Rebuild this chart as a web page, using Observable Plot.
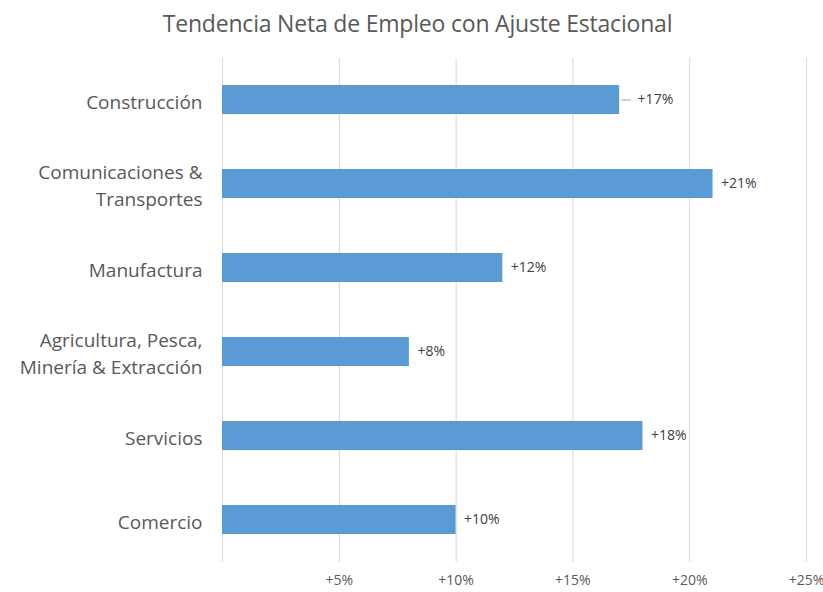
<!DOCTYPE html>
<html><head><meta charset="utf-8">
<script src="https://cdn.jsdelivr.net/npm/d3@7"></script>
<script src="https://cdn.jsdelivr.net/npm/@observablehq/plot@0.6"></script>
<style>
body{margin:0;background:#fff;font-family:"Open Sans",sans-serif;}
#title{height:40px;line-height:46px;text-align:center;font-size:23px;color:#595959;width:823px;padding-left:12px;box-sizing:border-box;letter-spacing:-0.2px;}
</style></head><body>
<div id="title">Tendencia Neta de Empleo con Ajuste Estacional</div>
<div id="chart"></div>
<script>
const categories = ["Construcción","Comunicaciones & Transportes","Manufactura","Agricultura, Pesca, Minería & Extracción","Servicios","Comercio"];
const categoryLabels = ["Construcción","Comunicaciones &\nTransportes","Manufactura","Agricultura, Pesca,\nMinería & Extracción","Servicios","Comercio"];
const values = [17, 21, 12, 8, 18, 10];
const valueLabels = ["+17%","+21%","+12%","+8%","+18%","+10%"];
const xTicks = [0, 5, 10, 15, 20, 25];
const xTickLabels = ["", "+5%", "+10%", "+15%", "+20%", "+25%"];

const data = categories.map((c, i) => ({cat: c, label: categoryLabels[i], value: values[i], text: valueLabels[i], leader: i === 0}));

const chart = Plot.plot({
  width: 823, height: 552,
  marginTop: 18, marginBottom: 30, marginLeft: 222, marginRight: 17,
  style: {fontFamily: "Open Sans", background: "#fff"},
  x: {domain: [0, 25], axis: null},
  y: {domain: categories, paddingInner: 0.65, paddingOuter: 0.325, axis: null},
  marks: [
    Plot.gridX(xTicks, {stroke: "#d9d9d9", strokeOpacity: 1}),
    Plot.axisX(xTicks, {label: null, tickSize: 0, tickPadding: 13, tickFormat: d => xTickLabels[xTicks.indexOf(d)], fontSize: 14, fill: "#595959"}),
    Plot.barX(data, {x: "value", y: "cat", fill: "#5B9BD5"}),
    Plot.text(data, {x: 0, y: "cat", text: "label", textAnchor: "end", dx: -20, fontSize: 19, lineHeight: 1.4, fill: "#595959"}),
    Plot.ruleY(data.filter(d => d.leader), {y: "cat", x1: d => d.value + 0.08, x2: d => d.value + 0.5, stroke: "#a6a6a6"}),
    Plot.text(data.filter(d => d.leader), {x: "value", y: "cat", text: "text", textAnchor: "start", dx: 18, fontSize: 14, fill: "#404040"}),
    Plot.text(data.filter(d => !d.leader), {x: "value", y: "cat", text: "text", textAnchor: "start", dx: 8, fontSize: 14, fill: "#404040"})
  ]
});
document.getElementById("chart").appendChild(chart);
</script>
</body></html>
